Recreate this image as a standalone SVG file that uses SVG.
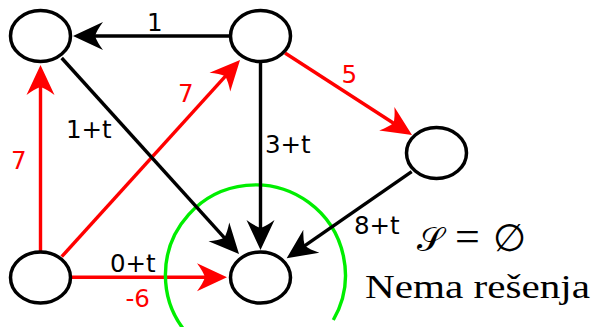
<svg xmlns="http://www.w3.org/2000/svg" width="596" height="327" viewBox="0 0 596 327">
<style>
.node{fill:#fff;stroke:#000;stroke-width:3.5}
.e{fill:none;stroke-width:3.4}
.k{stroke:#000}
.r{stroke:#f00}
.lbl{font-family:"DejaVu Sans",sans-serif;font-size:24.5px}
.lk{fill:#000}
.lr{fill:#f00}
.math{font-family:"Liberation Serif","DejaVu Serif",serif;font-size:33px;fill:#000}
</style>
<defs>
<marker id="ak" viewBox="0 0 32 30" refX="10" refY="15" markerWidth="32" markerHeight="30" markerUnits="userSpaceOnUse" orient="auto">
<path d="M30,15 L0,1 Q6,9 8,15 Q6,21 0,29 Z" fill="#000"/>
</marker>
<marker id="ar" viewBox="0 0 32 30" refX="10" refY="15" markerWidth="32" markerHeight="30" markerUnits="userSpaceOnUse" orient="auto">
<path d="M30,15 L0,1 Q6,9 8,15 Q6,21 0,29 Z" fill="#f00"/>
</marker>
</defs>
<g id="connectors">
<line class="e r" x1="285" y1="53" x2="395.2" y2="124.2" marker-end="url(#ar)"/>
<line class="e r" x1="40.5" y1="251" x2="40.5" y2="85" marker-end="url(#ar)"/>
<line class="e r" x1="61.7" y1="256.7" x2="226.6" y2="74.8" marker-end="url(#ar)"/>
<line class="e r" x1="71" y1="277.3" x2="207" y2="277.3" marker-end="url(#ar)"/>
<path id="green-arc" d="M333.3,320 A90,90 0 1 0 188.4,335" fill="none" stroke="#0e0" stroke-width="3.4"/>
<line class="e k" x1="230" y1="36" x2="93" y2="36" marker-end="url(#ak)"/>
<line class="e k" x1="61.7" y1="58" x2="225.6" y2="239.2" marker-end="url(#ak)"/>
<line class="e k" x1="260.5" y1="62" x2="260.5" y2="230" marker-end="url(#ak)"/>
<line class="e k" x1="411.7" y1="171.7" x2="303.1" y2="246.9" marker-end="url(#ak)"/>
<text class="lbl lk" x="147" y="30.7">1</text>
<text class="lbl lk" x="66" y="138">1+t</text>
<text class="lbl lk" x="265" y="153">3+t</text>
<text class="lbl lk" x="354" y="234">8+t</text>
<text class="lbl lk" x="110" y="271.5">0+t</text>
<text class="lbl lr" x="125.5" y="306.5">-6</text>
<text class="lbl lr" x="341.5" y="82.7">5</text>
<text class="lbl lr" x="11" y="169.3">7</text>
<text class="lbl lr" x="178" y="102">7</text>
</g>
<g id="n-tl"><ellipse class="node" cx="40.5" cy="36" rx="30" ry="25.5"/></g>
<g id="n-tm"><ellipse class="node" cx="260.5" cy="36" rx="30" ry="25.5"/></g>
<g id="n-r"><ellipse class="node" cx="436.5" cy="153" rx="30" ry="25.5"/></g>
<g id="n-bl"><ellipse class="node" cx="40.5" cy="277.5" rx="30" ry="25.5"/></g>
<g id="n-bm"><ellipse class="node" cx="260.5" cy="277.5" rx="30" ry="25.5"/></g>
<g id="caption">
<text class="math" y="251"><tspan x="430" text-anchor="middle" font-size="34">𝒮</tspan><tspan x="467.5" text-anchor="middle" font-size="44">=</tspan><tspan x="509" text-anchor="middle" font-size="38">∅</tspan></text>
<text class="math" x="365" y="298" textLength="225" lengthAdjust="spacingAndGlyphs">Nema rešenja</text>
</g>
</svg>
